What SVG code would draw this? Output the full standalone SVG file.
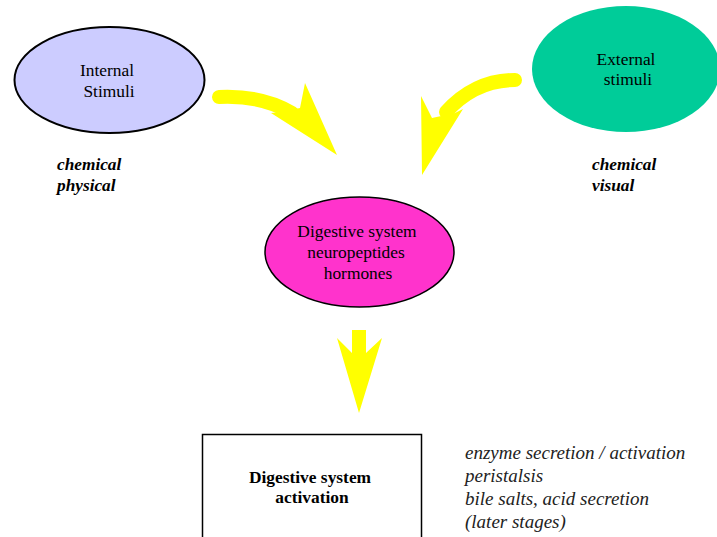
<svg xmlns="http://www.w3.org/2000/svg" width="717" height="537" viewBox="0 0 717 537">
<style>
.t{font-family:"Liberation Serif","Times New Roman",serif;font-size:17.4px;fill:#000;text-anchor:middle}
.lab{font-family:"Liberation Serif","Times New Roman",serif;font-size:17.3px;font-weight:bold;font-style:italic;fill:#000}
.it{font-family:"Liberation Serif","Times New Roman",serif;font-size:19px;font-style:italic;fill:#222}
.shaft{fill:none;stroke:#FFFF00;stroke-width:14;stroke-linecap:round}
.head{fill:#FFFF00;stroke:none}
</style>
<rect width="717" height="537" fill="#fff"/>
<g id="connectors">
  <path class="shaft" d="M219,97 Q262,95 292,113"/>
  <polygon class="head" points="305,83 337,155 271,113 281,112 300,108"/>
  <path class="shaft" d="M515,80 Q475,80 446,112"/>
  <polygon class="head" points="421,96 422,175 463,109 455,113 432,118"/>
  <polygon class="head" points="352,330 366,330 366,353 382,338 359,413 337,338 352,353"/>
</g>
<g id="internal">
  <ellipse cx="109.5" cy="80" rx="95" ry="53" fill="#CCCCFF" stroke="#000" stroke-width="2"/>
  <text class="t" x="107" y="76">Internal</text>
  <text class="t" x="109" y="97">Stimuli</text>
</g>
<g id="external">
  <ellipse cx="626" cy="69" rx="94" ry="63" fill="#00CC99"/>
  <text class="t" x="626" y="65">External</text>
  <text class="t" x="628" y="85">stimuli</text>
</g>
<g id="internal-labels">
  <text class="lab" x="57" y="170">chemical</text>
  <text class="lab" x="57" y="191">physical</text>
</g>
<g id="external-labels">
  <text class="lab" x="592" y="170">chemical</text>
  <text class="lab" x="592" y="191">visual</text>
</g>
<g id="digestive">
  <ellipse cx="359.5" cy="252" rx="94.5" ry="55" fill="#FF33CC" stroke="#000" stroke-width="1.5"/>
  <text class="t" x="357" y="237">Digestive system</text>
  <text class="t" x="356" y="258">neuropeptides</text>
  <text class="t" x="358" y="279">hormones</text>
</g>
<g id="activation">
  <rect x="202.5" y="434.5" width="219" height="110" fill="#fff" stroke="#000" stroke-width="1.5"/>
  <text class="t" x="310" y="483" font-weight="bold">Digestive system</text>
  <text class="t" x="312" y="503" font-weight="bold">activation</text>
</g>
<g id="effects">
  <text class="it" x="465" y="459">enzyme secretion / activation</text>
  <text class="it" x="465" y="482">peristalsis</text>
  <text class="it" x="465" y="505">bile salts, acid secretion</text>
  <text class="it" x="465" y="528">(later stages)</text>
</g>
</svg>
